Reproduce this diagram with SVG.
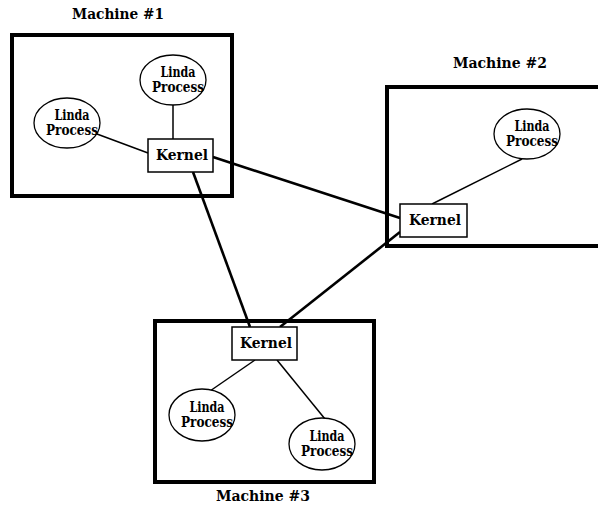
<svg xmlns="http://www.w3.org/2000/svg" width="598" height="507" viewBox="0 0 598 507">
<style>
.machine{fill:none;stroke:#000;stroke-width:4}
.kernel{fill:#fff;stroke:#000;stroke-width:1.5}
.proc{fill:#fff;stroke:#000;stroke-width:1.3}
.lbl{font-family:"DejaVu Serif","Liberation Serif",serif;font-weight:bold;font-size:14px;fill:#000}
.t{font-family:"DejaVu Serif","Liberation Serif",serif;font-weight:bold;font-size:14px;fill:#000;text-anchor:middle}
.net{stroke:#000;stroke-width:2.6;fill:none}
.loc{stroke:#000;stroke-width:1.5;fill:none}
</style>
<rect width="598" height="507" fill="#fff"/>
<g id="machine1">
<rect class="machine" x="12" y="35" width="220" height="161"/>
<text class="lbl" x="72" y="19" textLength="92" lengthAdjust="spacingAndGlyphs">Machine #1</text>
</g>
<g id="machine2">
<path class="machine" d="M604,87 H387 V246 H604"/>
<text class="lbl" x="453" y="68" textLength="94" lengthAdjust="spacingAndGlyphs">Machine #2</text>
</g>
<g id="machine3">
<rect class="machine" x="155" y="321" width="219" height="161"/>
<text class="lbl" x="216" y="501" textLength="94" lengthAdjust="spacingAndGlyphs">Machine #3</text>
</g>
<g id="connectors">
<line class="net" x1="213" y1="157" x2="400" y2="218"/>
<line class="net" x1="193" y1="172" x2="250" y2="327"/>
<line class="net" x1="400" y1="232" x2="280" y2="327"/>
<line class="loc" x1="173" y1="105" x2="173" y2="139"/>
<line class="loc" x1="97" y1="134" x2="148" y2="153"/>
<line class="loc" x1="522" y1="159" x2="432" y2="204"/>
<line class="loc" x1="255" y1="360" x2="210" y2="391"/>
<line class="loc" x1="277" y1="360" x2="325" y2="419"/>
</g>
<g id="kernel1">
<rect class="kernel" x="148" y="139" width="65" height="33"/>
<text class="t" x="182" y="160" textLength="52" lengthAdjust="spacingAndGlyphs">Kernel</text>
</g>
<g id="kernel2">
<rect class="kernel" x="400" y="204" width="67" height="33"/>
<text class="t" x="435" y="225" textLength="52" lengthAdjust="spacingAndGlyphs">Kernel</text>
</g>
<g id="kernel3">
<rect class="kernel" x="232" y="327" width="65" height="33"/>
<text class="t" x="266" y="348" textLength="52" lengthAdjust="spacingAndGlyphs">Kernel</text>
</g>
<g id="process1a">
<ellipse class="proc" cx="173" cy="80" rx="33" ry="25"/>
<text class="t" x="178" y="77" textLength="35" lengthAdjust="spacingAndGlyphs">Linda</text>
<text class="t" x="178" y="92" textLength="52" lengthAdjust="spacingAndGlyphs">Process</text>
</g>
<g id="process1b">
<ellipse class="proc" cx="67" cy="123" rx="33" ry="25"/>
<text class="t" x="72" y="120" textLength="35" lengthAdjust="spacingAndGlyphs">Linda</text>
<text class="t" x="72" y="135" textLength="52" lengthAdjust="spacingAndGlyphs">Process</text>
</g>
<g id="process2">
<ellipse class="proc" cx="527" cy="134" rx="33" ry="25"/>
<text class="t" x="532" y="131" textLength="35" lengthAdjust="spacingAndGlyphs">Linda</text>
<text class="t" x="532" y="146" textLength="52" lengthAdjust="spacingAndGlyphs">Process</text>
</g>
<g id="process3a">
<ellipse class="proc" cx="202" cy="415" rx="33" ry="26"/>
<text class="t" x="207" y="412" textLength="35" lengthAdjust="spacingAndGlyphs">Linda</text>
<text class="t" x="207" y="427" textLength="52" lengthAdjust="spacingAndGlyphs">Process</text>
</g>
<g id="process3b">
<ellipse class="proc" cx="322" cy="444" rx="33" ry="26"/>
<text class="t" x="327" y="441" textLength="35" lengthAdjust="spacingAndGlyphs">Linda</text>
<text class="t" x="327" y="456" textLength="52" lengthAdjust="spacingAndGlyphs">Process</text>
</g>
</svg>
